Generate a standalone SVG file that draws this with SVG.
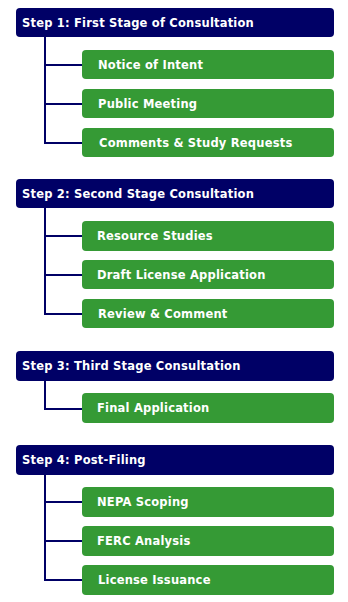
<svg xmlns="http://www.w3.org/2000/svg" width="348" height="602" viewBox="0 0 348 602">
<style>
.hd{fill:#000066}
.bx{fill:#359a35}
.ht{font-family:"DejaVu Sans",Verdana,sans-serif;font-weight:bold;font-size:11.5px;letter-spacing:0.2px;fill:#ffffff}
.con{fill:none;stroke:#000066;stroke-width:2}
</style>
<rect width="348" height="602" fill="#ffffff"/>
<g id="connectors">
<path class="con" d="M45,37V143H82M45,65H82M45,104H82"/>
<path class="con" d="M45,208V314H82M45,236H82M45,275H82"/>
<path class="con" d="M45,381V409H82"/>
<path class="con" d="M45,475V580H82M45,502H82M45,541H82"/>
</g>
<g id="step1"><rect class="hd" x="16" y="8" width="318" height="29" rx="4"/><text class="ht" x="22" y="27">Step 1: First Stage of Consultation</text></g>
<g id="notice"><rect class="bx" x="82" y="50" width="252" height="29" rx="4"/><text class="ht" x="98" y="69">Notice of Intent</text></g>
<g id="public"><rect class="bx" x="82" y="89" width="252" height="29" rx="4"/><text class="ht" x="98" y="108">Public Meeting</text></g>
<g id="comments"><rect class="bx" x="82" y="128" width="252" height="29" rx="4"/><text class="ht" x="99" y="147">Comments &amp; Study Requests</text></g>
<g id="step2"><rect class="hd" x="16" y="179" width="318" height="29" rx="4"/><text class="ht" x="22" y="198">Step 2: Second Stage Consultation</text></g>
<g id="resource"><rect class="bx" x="82" y="221" width="252" height="30" rx="4"/><text class="ht" x="97" y="240">Resource Studies</text></g>
<g id="draft"><rect class="bx" x="82" y="260" width="252" height="29" rx="4"/><text class="ht" x="97" y="279">Draft License Application</text></g>
<g id="review"><rect class="bx" x="82" y="299" width="252" height="29" rx="4"/><text class="ht" x="98" y="318">Review &amp; Comment</text></g>
<g id="step3"><rect class="hd" x="16" y="351" width="318" height="30" rx="4"/><text class="ht" x="22" y="370">Step 3: Third Stage Consultation</text></g>
<g id="final"><rect class="bx" x="82" y="393" width="252" height="30" rx="4"/><text class="ht" x="97" y="412">Final Application</text></g>
<g id="step4"><rect class="hd" x="16" y="445" width="318" height="30" rx="4"/><text class="ht" x="22" y="464">Step 4: Post-Filing</text></g>
<g id="nepa"><rect class="bx" x="82" y="487" width="252" height="30" rx="4"/><text class="ht" x="97" y="506">NEPA Scoping</text></g>
<g id="ferc"><rect class="bx" x="82" y="526" width="252" height="30" rx="4"/><text class="ht" x="97" y="545">FERC Analysis</text></g>
<g id="license"><rect class="bx" x="82" y="565" width="252" height="30" rx="4"/><text class="ht" x="98" y="584">License Issuance</text></g>
</svg>
